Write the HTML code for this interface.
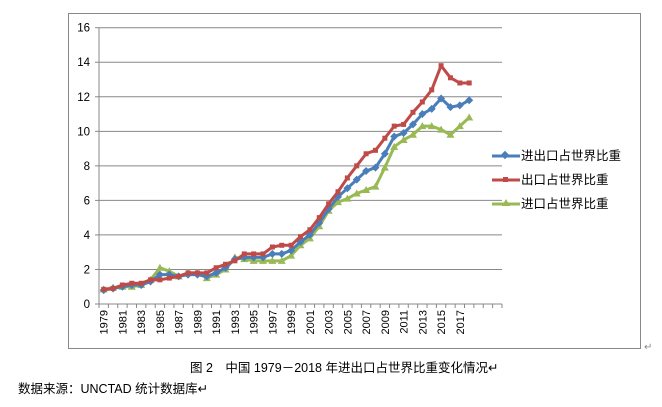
<!DOCTYPE html>
<html><head><meta charset="utf-8"><style>
body{margin:0;width:662px;height:402px;background:#fff;overflow:hidden;font-family:"Liberation Sans","Noto Sans CJK SC",sans-serif;}
svg text{font-family:"Liberation Sans","Noto Sans CJK SC",sans-serif;}
</style></head><body>
<svg id="c" width="662" height="402">
<rect x="68.5" y="13.5" width="572" height="335" fill="#fff" stroke="#888"/>
<g id="grid"></g><g id="series"></g><g id="axes"></g>
<g>
<line x1="492" y1="156" x2="520" y2="156" stroke="#4a7ebb" stroke-width="3"/>
<rect x="502" y="152" width="6" height="6" fill="#4a7ebb" transform="rotate(45 505 155)"/>
<text x="521" y="160" font-size="12.5" fill="#000">进出口占世界比重</text>
<line x1="492" y1="180" x2="520" y2="180" stroke="#be4b48" stroke-width="3"/>
<rect x="503" y="177" width="5" height="5" fill="#be4b48"/>
<text x="521" y="184" font-size="12.5" fill="#000">出口占世界比重</text>
<line x1="492" y1="204" x2="520" y2="204" stroke="#98b954" stroke-width="3"/>
<polygon points="506,199 510,206 502,206" fill="#98b954"/>
<text x="521" y="208" font-size="12.5" fill="#000">进口占世界比重</text>
</g>
<text x="644" y="350" font-size="10" fill="#888">↵</text>
<text x="190" y="372" font-size="12.5" fill="#000">图 2　中国 1979－2018 年进出口占世界比重变化情况↵</text>
<text x="18" y="393" font-size="12.5" fill="#000">数据来源：UNCTAD 统计数据库↵</text>
</svg>
<script>
const years=[];for(let y=1979;y<=2018;y++)years.push(y);
const totalShare=[0.8,0.9,1.0,1.1,1.1,1.3,1.7,1.7,1.6,1.7,1.7,1.6,1.8,2.1,2.6,2.7,2.7,2.7,2.9,2.9,3.1,3.6,4.0,4.7,5.5,6.2,6.7,7.2,7.7,7.9,8.7,9.7,9.9,10.4,11.0,11.3,11.9,11.4,11.5,11.8];
const exportShare=[0.85,0.9,1.1,1.2,1.2,1.4,1.4,1.5,1.6,1.8,1.8,1.8,2.1,2.3,2.5,2.9,2.9,2.9,3.3,3.4,3.4,3.9,4.3,5.0,5.8,6.5,7.3,8.0,8.7,8.9,9.6,10.3,10.4,11.1,11.7,12.4,13.8,13.1,12.8,12.8];
const importShare=[0.85,0.95,1.0,1.0,1.1,1.4,2.1,1.9,1.6,1.8,1.8,1.5,1.7,2.0,2.7,2.6,2.5,2.5,2.5,2.5,2.8,3.4,3.8,4.5,5.4,5.9,6.1,6.4,6.6,6.8,7.9,9.1,9.5,9.8,10.3,10.3,10.1,9.8,10.3,10.8];
const yTicks=[0,2,4,6,8,10,12,14,16];
const NS='http://www.w3.org/2000/svg';
const X0=99,X1=502,Y0=304,Y1=27.7,SLOTS=43;
const bw=(X1-X0)/SLOTS;
const xs=i=>X0+(i+0.5)*bw;
const ys=v=>Y0-(v/16)*(Y0-Y1);
function mk(t,a,p){const e=document.createElementNS(NS,t);for(const k in a)e.setAttribute(k,a[k]);p.appendChild(e);return e;}
const grid=document.getElementById('grid'),axes=document.getElementById('axes'),ser=document.getElementById('series');
yTicks.forEach(v=>{
 if(v>0){const g=mk('line',{x1:X0,x2:X1,y1:ys(v),y2:ys(v),stroke:'#888','stroke-width':1},grid);
 
 }
 mk('line',{x1:X0-4,x2:X0,y1:ys(v),y2:ys(v),stroke:'#888'},axes);
 const t=mk('text',{x:X0-9,y:ys(v)+4,'font-size':11.5,'text-anchor':'end',fill:'#000'},axes);t.textContent=v;
 
 
});
mk('line',{x1:X0,x2:X0,y1:Y1,y2:Y0,stroke:'#888'},axes);
mk('line',{x1:X0,x2:X1,y1:Y0,y2:Y0,stroke:'#888'},axes);
for(let i=0;i<=SLOTS;i++)mk('line',{x1:X0+i*bw,x2:X0+i*bw,y1:Y0,y2:Y0+4,stroke:'#888'},axes);
years.forEach((y,i)=>{if(i%2)return;
 const t=mk('text',{x:0,y:0,'font-size':11,fill:'#000','text-anchor':'end',transform:`translate(${xs(i)+4},${Y0+6}) rotate(-90)`},axes);t.textContent=y;
 
 
});
function draw(data,color,name,marker){
 const pts=data.map((v,i)=>xs(i)+','+ys(v)).join(' ');
 const pl=mk('polyline',{points:pts,fill:'none',stroke:color,'stroke-width':3,'stroke-linejoin':'round'},ser);
 
 
 data.forEach((v,i)=>{const x=xs(i),y=ys(v);let m;
  if(marker==='d')m=mk('polygon',{points:`${x},${y-4} ${x+4},${y} ${x},${y+4} ${x-4},${y}`,fill:color},ser);
  else if(marker==='s')m=mk('rect',{x:x-2.5,y:y-2.5,width:5,height:5,fill:color},ser);
  else m=mk('polygon',{points:`${x},${y-4} ${x+4},${y+3} ${x-4},${y+3}`,fill:color},ser);
  
  
 });
}
draw(importShare,'#98b954','import-share','t');
draw(totalShare,'#4a7ebb','total-share','d');
draw(exportShare,'#be4b48','export-share','s');
</script>
</body></html>
